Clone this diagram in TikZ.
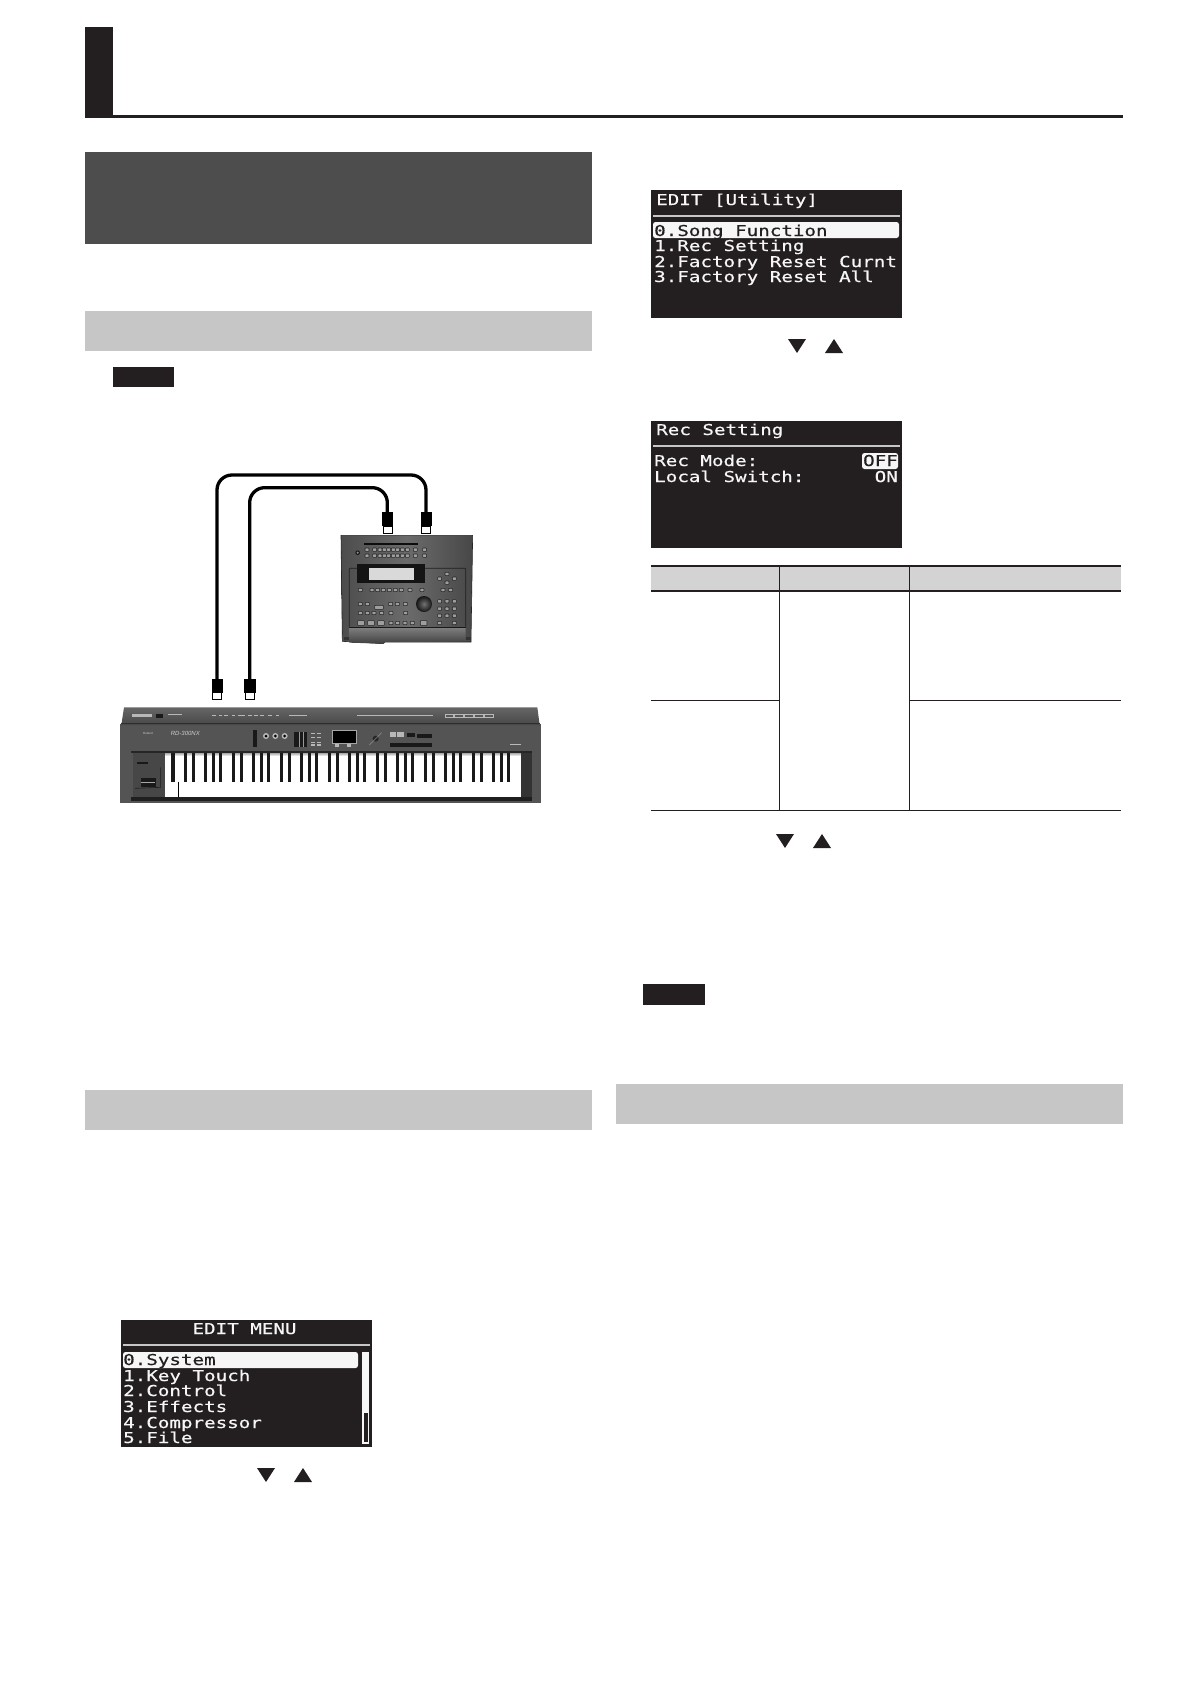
\documentclass[tikz,border=0pt]{standalone}
\usepackage{fontspec}
\usetikzlibrary{positioning}
\setmainfont{Liberation Sans}
\newfontfamily\lcdfont[FakeStretch=1.28,FakeBold=0.5]{DejaVu Sans Mono}
\definecolor{ink}{HTML}{231F20}
\definecolor{darkband}{HTML}{4E4D4D}
\definecolor{greyband}{HTML}{C6C6C6}
\definecolor{thead}{HTML}{D3D3D3}
\definecolor{lcdw}{HTML}{F6F6F6}
\definecolor{keybody}{HTML}{545454}
\tikzset{
  lcdtxt/.style={anchor=base west,inner sep=0pt,text=lcdw,font=\lcdfont\fontsize{15}{15}\selectfont},
  lcdsel/.style={lcdtxt,text=ink},
  lcdright/.style={lcdtxt,anchor=base east},
  lcdbg/.style={fill=ink},
  lcdhi/.style={fill=lcdw,rounded corners=2.5pt},
  lcdrule/.style={draw=greyband,line width=1.6pt},
  tri/.style={fill=ink},
  tablethin/.style={draw=ink,line width=1pt},
  tablethick/.style={draw=ink,line width=2pt},
  plughead/.style={draw=black,fill=black,minimum width=10.5pt,minimum height=13pt,inner sep=0pt},
  plugtip/.style={draw=black,fill=white,line width=.6pt,minimum width=9pt,minimum height=7pt,inner sep=0pt},
  cable/.style={draw=black,line width=3.3pt,rounded corners=15pt},
  devbtn/.style={draw=black!85,fill=black!38,line width=.6pt,rounded corners=.6pt},
  kbdmark/.style={fill=white!72!black},
  kbdblack/.style={fill=black!90},
  logotext/.style={inner sep=0pt,text=white!80!black},
}
\newcommand{\dbtn}[2]{\draw[devbtn] (#1-6,#2-5) rectangle (#1+6,#2+5);}
\newcommand{\dbtnw}[2]{\draw[devbtn] (#1-10,#2-7) rectangle (#1+10,#2+7);}
\begin{document}
\begin{tikzpicture}[x=1pt,y=-1pt]
\useasboundingbox (0,0) rectangle (1191,1684);
\fill[white] (0,0) rectangle (1191,1684);
% page header
\fill[ink] (85,27) rectangle (113,118);
\fill[ink] (85,115) rectangle (1123,118);
% bands
\fill[darkband] (85,152) rectangle (592,244);
\fill[greyband] (85,311) rectangle (592,351);
\fill[ink] (113,367) rectangle (174,387);
\fill[ink] (643,984) rectangle (705,1005);
\fill[greyband] (85,1090) rectangle (592,1130);
\fill[greyband] (616,1084) rectangle (1123,1124);

% ===== connection illustration (coordinates of a 3x crop) =====
\begin{scope}[shift={(100,450)},scale=1/3]
  % sound module
  \shade[left color=black!70,right color=black!72,middle color=black!58,draw=black!85,line width=.6pt]
    (723,256) -- (1118,256) -- (1113,576) -- (855,576) -- (850,581) -- (727,574) -- cycle;
  \draw[black!88,line width=.7pt] (748,530) -- (748,357) -- (750,355) -- (1095,355) -- (1097,357) -- (1097,530);
  \shade[top color=black!50,bottom color=black!75] (748,532) -- (1097,532) -- (1097,574) -- (855,576) -- (850,581) -- (748,578) -- cycle;
  \draw[black!90,line width=.7pt] (748,531) -- (1097,531);
  \fill[black!80] (733,560) rectangle (746,570);
  \fill[black!80] (1099,560) rectangle (1112,570);
  \fill[black!95] (792,280) rectangle (955,286);
  \fill[black!90] (773,308) circle (7);
  \fill[black!45] (773,308) circle (3.5);
  \foreach \x in {801,824,840,853,866,880,893,907,922,946,974} {\dbtn{\x}{299}\dbtn{\x}{317}}
  \fill[black!92] (771,342) rectangle (975,398);
  \fill[white!85!black] (806,354) rectangle (942,390);
  \foreach \x in {781,816,833,850,868,886,904,930,966,1029,1052} {\dbtn{\x}{420}}
  \dbtn{1041}{372}\dbtn{1019}{386}\dbtn{1063}{386}\dbtn{1041}{398}
  \shade[inner color=black!55,outer color=black!92] (972,462) circle (24);
  \foreach \x in {781,802,872,892,916} {\dbtn{\x}{462}}
  \draw[devbtn] (824,466) rectangle (850,478);
  \foreach \x in {781,802,822,845,873,917} {\dbtn{\x}{489}}
  \foreach \x in {783,813,843,971} {\dbtnw{\x}{519}}
  \foreach \x in {873,893,915,937,1019,1063} {\dbtn{\x}{519}}
  \foreach \y in {454,476,497} {\dbtn{1019}{\y}\dbtn{1041}{\y}\dbtn{1063}{\y}}

  % keyboard
  \fill[keybody] (60,822) -- (1322,822) -- (1322,1060) -- (60,1060) -- cycle;
  \shade[top color=black!60,bottom color=black!72] (64,825) -- (72,772) -- (1312,772) -- (1319,825) -- cycle;
  \fill[black!82] (64,818) rectangle (1319,823);
  \fill[black!85] (92,902) rectangle (1295,908);
  \fill[black!72] (100,908) rectangle (195,1040);
  \fill[black!80] (1263,908) rectangle (1295,1040);
  \fill[black!88] (92,1040) rectangle (1295,1052);
  \draw[black!88,line width=.6pt] (182,952) -- (182,1012) -- (105,1015);
  \fill[black!90] (110,935) rectangle (143,943);
  \fill[black!90] (122,985) rectangle (168,1012);
  \fill[white!65!black] (124,995) rectangle (165,998);
  % top strip marks
  \fill[kbdmark] (97,793) rectangle (157,800);
  \fill[black!90] (168,791) rectangle (188,805);
  \fill[kbdmark] (203,793) rectangle (245,796);
  \foreach \x in {342,362,378,400,420,430,450,468,486,510,533} {\fill[kbdmark] (\x-5,796) rectangle (\x+5,799);}
  \fill[kbdmark] (568,795) rectangle (620,798);
  \fill[kbdmark] (772,795) rectangle (1000,798);
  \draw[draw=white!72!black,line width=.8pt] (1036,793) rectangle (1181,801);
  \foreach \x in {1060,1090,1120,1150} {\fill[white!72!black] (\x,793) rectangle (\x+6,801);}
  % logo and model
  \node[logotext,font=\fontsize{3}{3}\selectfont] (brand) at (144,850) {Roland};
  \node[logotext,font=\itshape\fontsize{6}{6}\selectfont] (model) at (256,849) {RD-300NX};
  % panel controls
  \fill[kbdblack] (460,840) rectangle (472,890);
  \foreach \x in {498,526,554} {\fill[kbdmark] (\x,858) circle (9); \fill[black] (\x,858) circle (4.5);}
  \fill[kbdblack] (582,845) rectangle (620,890);
  \draw[draw=white!60!black,line width=.3pt] (596,845) -- (596,890) (608,845) -- (608,890);
  \foreach \y in {850,862,877,885} {\fill[kbdmark] (632,\y-2) rectangle (644,\y+2); \fill[kbdmark] (650,\y-2) rectangle (662,\y+2);}
  \fill[black] (697,841) rectangle (767,878);
  \draw[white!65!black,line width=.3pt] (697,841) rectangle (767,878);
  \fill[kbdmark] (706,882) rectangle (716,890);
  \fill[kbdmark] (742,882) rectangle (752,890);
  \fill[black!85] (827,866) circle (9);
  \draw[white!65!black,line width=.3pt] (808,885) -- (845,848);
  \fill[kbdmark] (870,846) rectangle (888,862);
  \fill[kbdmark] (892,846) rectangle (912,862);
  \fill[kbdblack] (870,878) rectangle (995,890);
  \fill[kbdblack] (952,852) rectangle (995,863);
  \fill[kbdblack] (922,848) rectangle (945,860);
  \fill[kbdmark] (1230,883) rectangle (1262,886);
  % keys
  \fill[white] (195,910) rectangle (1263,1040);
  \shade[top color=black!30,bottom color=white] (195,910) rectangle (1263,918);
  \draw[black,line width=.5pt] (235,995) -- (235,1040);
  \fill[kbdblack] (213,910) rectangle (224,995);
  \foreach \k in {0,...,6} \foreach \o in {38,62,98,122,144} {
    \pgfmathsetmacro{\kx}{218+144*\k+\o}
    \fill[kbdblack] (\kx-4.5,910) rectangle (\kx+4.5,995);
  }

  % plugs and cables
  \node[plughead] (headA) at (351,707) {};
  \node[plugtip,below=0pt of headA] (tipA) {};
  \node[plughead] (headB) at (449,707) {};
  \node[plugtip,below=0pt of headB] (tipB) {};
  \node[plughead] (headC) at (862,207) {};
  \node[plugtip,below=0pt of headC] (tipC) {};
  \node[plughead] (headD) at (978,207) {};
  \node[plugtip,below=0pt of headD] (tipD) {};
  \coordinate (outerTop) at (650,75);
  \coordinate (innerTop) at (650,113);
  \draw[cable] (headA.north) |- (outerTop) -| (headD.north);
  \draw[cable] (headB.north) |- (innerTop) -| (headC.north);
\end{scope}

% ===== EDIT [Utility] =====
\fill[lcdbg] (651,190) rectangle (902,318);
\draw[lcdrule] (653,216) -- (900,216);
\fill[lcdhi] (653,222) rectangle (899,238);
\node[lcdtxt] (utitle) at (656,205) {EDIT [Utility]};
\node[lcdsel] (urow0) at (654,236) {0.Song Function};
\node[lcdtxt] (urow1) at (654,251) {1.Rec Setting};
\node[lcdtxt] (urow2) at (654,267) {2.Factory Reset Curnt};
\node[lcdtxt] (urow3) at (654,282) {3.Factory Reset All};
\fill[tri] (788,339) -- (806,339) -- (797,353) -- cycle;
\fill[tri] (825,353) -- (843,353) -- (834,339) -- cycle;

% ===== Rec Setting =====
\fill[lcdbg] (651,421) rectangle (902,548);
\draw[lcdrule] (653,446) -- (900,446);
\node[lcdtxt] (rtitle) at (656,435) {Rec Setting};
\node[lcdtxt] (rrow0) at (654,466) {Rec Mode:};
\node[lcdtxt] (rrow1) at (654,482) {Local Switch:};
\fill[lcdhi] (862,453) rectangle (898,469);
\node[lcdright,text=ink] (roff) at (898,466) {OFF};
\node[lcdright] (ron) at (898,482) {ON};

% ===== table =====
\fill[thead] (651,566) rectangle (1121,591);
\draw[tablethick] (651,566) -- (1121,566);
\draw[tablethick] (651,591) -- (1121,591);
\draw[tablethin] (779,566) -- (779,810);
\draw[tablethin] (909,566) -- (909,810);
\draw[tablethin] (651,700) -- (779,700);
\draw[tablethin] (909,700) -- (1121,700);
\draw[tablethin] (651,810) -- (1121,810);
\fill[tri] (776,834) -- (794,834) -- (785,848) -- cycle;
\fill[tri] (813,848) -- (831,848) -- (822,834) -- cycle;

% ===== EDIT MENU =====
\fill[lcdbg] (121,1320) rectangle (372,1447);
\draw[lcdrule] (123,1345) -- (370,1345);
\fill[lcdhi] (123,1352) rectangle (358,1368);
\fill[lcdw] (362,1352) rectangle (369,1413);
\draw[lcdw,line width=1.2pt] (363,1412) rectangle (368.5,1443);
\node[lcdtxt,anchor=base] (etitle) at (244.5,1334) {EDIT MENU};
\node[lcdsel] (erow0) at (123,1365) {0.System};
\node[lcdtxt] (erow1) at (123,1381) {1.Key Touch};
\node[lcdtxt] (erow2) at (123,1396) {2.Control};
\node[lcdtxt] (erow3) at (123,1412) {3.Effects};
\node[lcdtxt] (erow4) at (123,1428) {4.Compressor};
\node[lcdtxt] (erow5) at (123,1443) {5.File};
\fill[tri] (257,1468) -- (275,1468) -- (266,1482) -- cycle;
\fill[tri] (294,1482) -- (312,1482) -- (303,1468) -- cycle;
\end{tikzpicture}
\end{document}
